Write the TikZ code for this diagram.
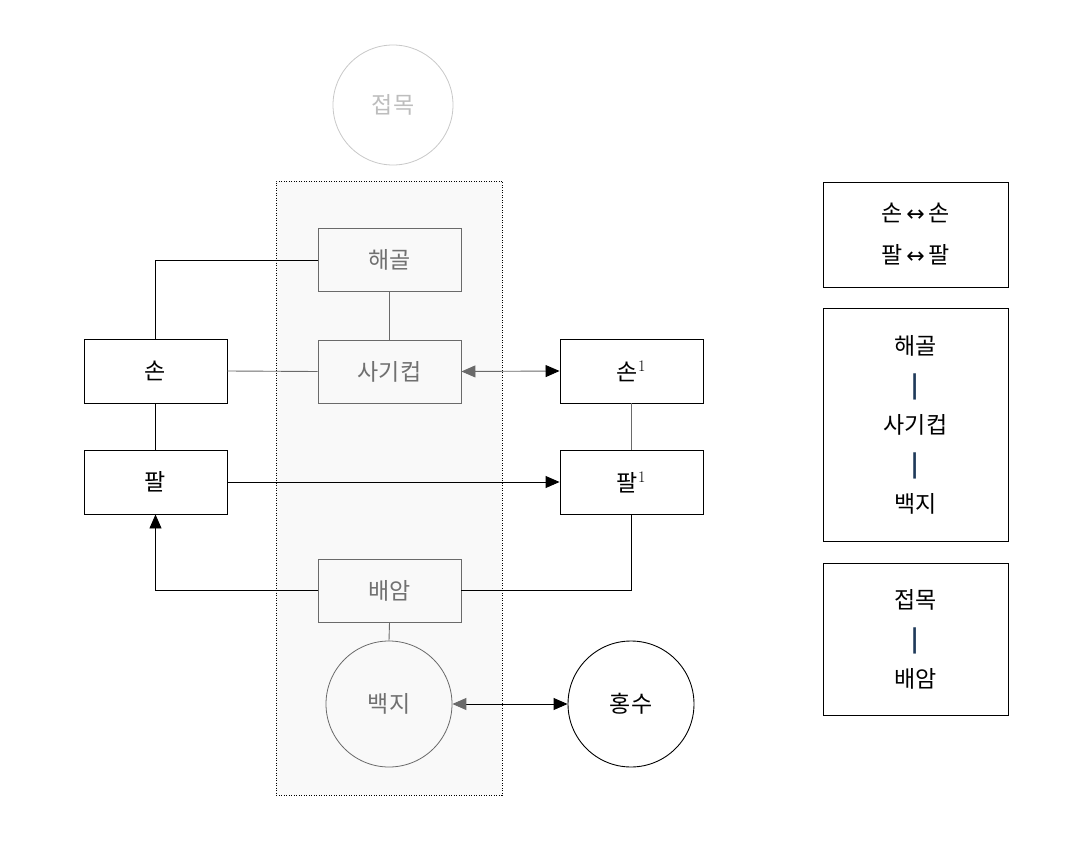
\documentclass[tikz,border=0pt]{standalone}
\usepackage{fontspec}
\newfontfamily\kr{Noto Sans CJK KR}
\newfontfamily\djv{DejaVu Sans}
\usetikzlibrary{arrows.meta}
\definecolor{gline}{HTML}{6A6A6A}
\definecolor{gtext}{HTML}{707070}
\definecolor{faint}{HTML}{C8C8C8}
\definecolor{fainttext}{HTML}{BDBDBD}
\definecolor{bgfill}{HTML}{F9F9F9}
\definecolor{barblue}{HTML}{1F3A5A}
\tikzset{
  base/.style={font=\kr\fontsize{23}{27}\selectfont, inner sep=0pt},
  blackbox/.style={base, draw=black, fill=white, line width=0.9pt, minimum width=143pt, minimum height=64pt},
  graybox/.style={base, draw=gline, fill=bgfill, text=gtext, line width=0.9pt, minimum width=143pt, minimum height=63pt},
  graycirc/.style={base, circle, draw=gline, fill=bgfill, text=gtext, line width=0.8pt, minimum size=126pt},
  blackcirc/.style={base, circle, draw=black, fill=white, line width=0.9pt, minimum size=126pt},
  legend/.style={base, draw=black, line width=0.9pt, minimum width=185pt, align=center},
  conn/.style={line width=0.9pt, draw=black},
  gconn/.style={line width=0.9pt, draw=gline},
}
\newcommand{\lrarr}{\,{\djv\fontsize{22}{22}\selectfont ↔}\,}
\newcommand{\vbar}{{\color{barblue}\bfseries |}}
\begin{document}
\begin{tikzpicture}[x=1pt, y=-1pt]
\useasboundingbox (0,0) rectangle (1092,845);
% grouped background
\node[draw=black, fill=bgfill, line width=0.8pt, dash pattern=on 1pt off 1.5pt, minimum width=226pt, minimum height=614pt, inner sep=0pt] (grp) at (389,488) {};
% top faint circle
\node[base, circle, draw=faint, text=fainttext, line width=0.8pt, minimum size=120pt] (jm) at (393,105) {접목};
% gray nodes
\node[graybox] (hg) at (389.5,260) {해골};
\node[graybox] (sg) at (389.5,371.5) {사기컵};
\node[graybox] (ba) at (389.5,590.5) {배암};
\node[graycirc] (bj) at (389,704) {백지};
% black nodes
\node[blackbox] (son) at (155.5,371) {손};
\node[blackbox] (pal) at (155.5,482) {팔};
\node[blackbox] (son1) at (631.5,371) {손\textsuperscript{\rmfamily 1}};
\node[blackbox] (pal1) at (631.5,482) {팔\textsuperscript{\rmfamily 1}};
\node[blackcirc] (hs) at (631,704) {홍수};
% connectors
\draw[conn] (hg.west) -| (son.north);
\draw[gconn] (hg.south) -- (sg.north);
\draw[gconn] (son.east) -- (sg.west);
\draw[conn] (son.south) -- (pal.north);
\draw[gconn] (son1.south) -- (pal1.north);
\draw[gconn, {Triangle[length=14pt, width=12pt, color=gline]}-{Triangle[length=14pt, width=12pt, color=black]}] (sg.east) -- (son1.west);
\draw[conn, -{Triangle[length=14pt, width=12pt]}] (pal.east) -- (pal1.west);
\draw[conn, -{Triangle[length=14pt, width=12pt]}] (ba.west) -| (pal.south);
\draw[conn] (ba.east) -| (pal1.south);
\draw[gconn] (ba.south) -- (bj.north);
\draw[conn, {Triangle[length=14pt, width=12pt, color=gline]}-{Triangle[length=14pt, width=12pt, color=black]}] (bj.east) -- (hs.west);
% legends
\node[legend, minimum height=105pt] (lg1) at (915.5,234.5) {손\lrarr 손\\[15pt]팔\lrarr 팔};
\node[legend, minimum height=233pt] (lg2) at (915.5,424.5) {해골\\[12.5pt]\vbar\\[12.5pt]사기컵\\[12.5pt]\vbar\\[12.5pt]백지};
\node[legend, minimum height=152pt] (lg3) at (915.5,639) {접목\\[12.5pt]\vbar\\[12.5pt]배암};
\end{tikzpicture}
\end{document}
